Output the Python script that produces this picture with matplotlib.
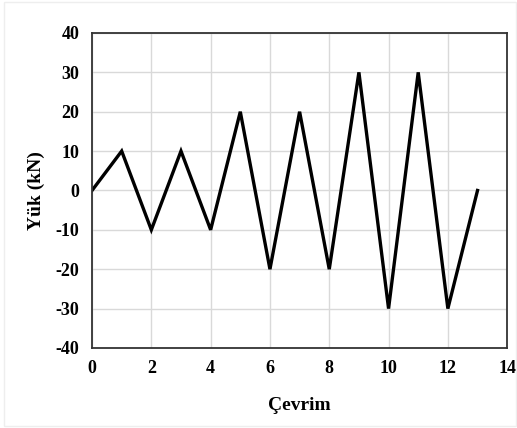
import matplotlib.pyplot as plt
from matplotlib.patches import Rectangle

cycles = [0, 1, 2, 3, 4, 5, 6, 7, 8, 9, 10, 11, 12, 13]
load_kn = [0, 10, -10, 10, -10, 20, -20, 20, -20, 30, -30, 30, -30, 0]

x_ticks = [0, 2, 4, 6, 8, 10, 12, 14]
y_ticks = [-40, -30, -20, -10, 0, 10, 20, 30, 40]

plt.rcParams["font.family"] = ["Liberation Serif", "DejaVu Serif"]
plt.rcParams["font.weight"] = "bold"
plt.rcParams["axes.unicode_minus"] = False

fig = plt.figure(figsize=(5.17, 4.28), dpi=100)
ax = fig.add_axes([0.178, 0.187, 0.803, 0.736])

# faint chart-area frame like the spreadsheet export
fig.patches.append(Rectangle((0.008, 0.005), 0.99, 0.99, transform=fig.transFigure,
                             fill=False, edgecolor="#eeeeee", linewidth=1))

ax.plot(cycles, load_kn, color="black", linewidth=2.4, solid_joinstyle="miter")

ax.set_xlim(0, 14)
ax.set_ylim(-40, 40)
ax.set_xticks(x_ticks)
ax.set_yticks(y_ticks)
ax.grid(True, color="#d9d9d9", linewidth=1)
ax.set_axisbelow(True)
for s in ax.spines.values():
    s.set_color("#333333")
    s.set_linewidth(1.3)
ax.tick_params(length=0, labelsize=13, pad=9)
for lbl in ax.get_xticklabels() + ax.get_yticklabels():
    lbl.set_fontweight("bold")

ax.set_xlabel("Çevrim", fontsize=14, fontweight="bold", labelpad=14)
ax.set_ylabel("Yük (kN)", fontsize=14, fontweight="bold", labelpad=8)

fig.savefig("out.png", dpi=100)
